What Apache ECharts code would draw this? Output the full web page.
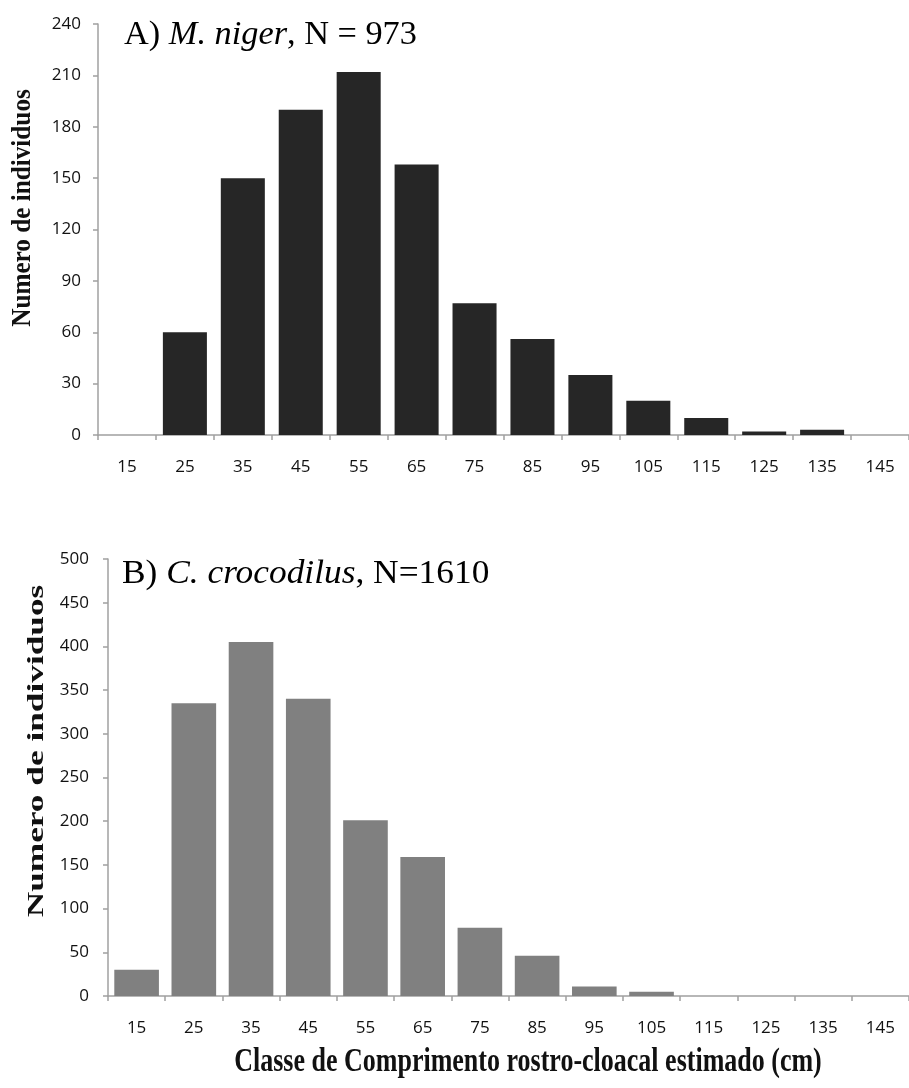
<!DOCTYPE html>
<html>
<head>
<meta charset="utf-8">
<script src="https://cdn.jsdelivr.net/npm/echarts@6/dist/echarts.min.js"></script>
<style>
html,body{margin:0;padding:0;background:#fff;}
#chart{width:909px;height:1088px;}
</style>
</head>
<body>
<div id="chart"></div>
<script>
// Size classes (cm)
const categories = ['15','25','35','45','55','65','75','85','95','105','115','125','135','145'];
// A) M. niger, N = 973
const nigerCounts = [0, 60, 150, 190, 212, 158, 77, 56, 35, 20, 10, 2, 3, 0];
// B) C. crocodilus, N = 1610
const crocodilusCounts = [30, 335, 405, 340, 201, 159, 78, 46, 11, 5, 0, 0, 0, 0];
const nigerTicks = {min: 0, max: 240, interval: 30};
const crocTicks = {min: 0, max: 500, interval: 50};

const yTitle = 'Numero de individuos';
const xTitle = 'Classe de Comprimento rostro-cloacal estimado (cm)';

const chart = echarts.init(document.getElementById('chart'), null, {renderer: 'canvas'});

const axisGray = '#a0a0a0';
const labelFont = {fontFamily: 'Open Sans', fontSize: 17, color: '#111'};

function xAxisCfg(gridIndex) {
  return {
    type: 'category', gridIndex, data: categories,
    axisLine: {lineStyle: {color: axisGray, width: 1.5}},
    axisTick: {show: true, length: 5, alignWithLabel: false, lineStyle: {color: axisGray, width: 1.5}},
    axisLabel: Object.assign({margin: 24, interval: 0}, labelFont),
    splitLine: {show: false}
  };
}
function yAxisCfg(gridIndex, t, margin) {
  return {
    type: 'value', gridIndex, min: t.min, max: t.max, interval: t.interval,
    axisLine: {show: true, lineStyle: {color: axisGray, width: 1.5}},
    axisTick: {show: true, length: 5, lineStyle: {color: axisGray, width: 1.5}},
    axisLabel: Object.assign({margin: margin}, labelFont),
    splitLine: {show: false}
  };
}

const option = {
  backgroundColor: '#fff',
  animation: false,
  grid: [
    {left: 98, top: 24, width: 816, height: 411, containLabel: false},
    {left: 108, top: 559, width: 811, height: 437, containLabel: false}
  ],
  xAxis: [xAxisCfg(0), xAxisCfg(1)],
  yAxis: [yAxisCfg(0, nigerTicks, 17), yAxisCfg(1, crocTicks, 19)],
  series: [
    {type: 'bar', xAxisIndex: 0, yAxisIndex: 0, data: nigerCounts,
     barCategoryGap: '24%', itemStyle: {color: '#262626'}},
    {type: 'bar', xAxisIndex: 1, yAxisIndex: 1, data: crocodilusCounts,
     barCategoryGap: '22%', itemStyle: {color: '#808080'}}
  ],
  graphic: [
    {type: 'text', x: 124, y: 35, scaleX: 1.04,
     style: {text: '{r|A) }{i|M. niger}{r|, N = 973}', textAlign: 'left', textVerticalAlign: 'middle',
       rich: {r: {fontFamily: 'Liberation Serif', fontSize: 33, color: '#111'},
              i: {fontFamily: 'Liberation Serif', fontStyle: 'italic', fontSize: 33, color: '#111'}}}},
    {type: 'text', x: 122, y: 574, scaleX: 1.04,
     style: {text: '{r|B) }{i|C. crocodilus}{r|, N=1610}', textAlign: 'left', textVerticalAlign: 'middle',
       rich: {r: {fontFamily: 'Liberation Serif', fontSize: 34, color: '#111'},
              i: {fontFamily: 'Liberation Serif', fontStyle: 'italic', fontSize: 34, color: '#111'}}}},
    {type: 'text', x: 23, y: 208, rotation: Math.PI / 2, scaleX: 0.9,
     style: {text: yTitle, font: 'bold 28px "Liberation Serif"', fill: '#111', textAlign: 'center', textVerticalAlign: 'middle'}},
    {type: 'text', x: 37, y: 751, rotation: Math.PI / 2, scaleX: 1.47,
     style: {text: yTitle, font: 'bold 24px "Liberation Serif"', fill: '#111', textAlign: 'center', textVerticalAlign: 'middle'}},
    {type: 'text', x: 528, y: 1062, scaleY: 1.3,
     style: {text: xTitle, font: 'bold 26px "Liberation Serif"', fill: '#111', textAlign: 'center', textVerticalAlign: 'middle'}}
  ]
};
chart.setOption(option);
</script>
</body>
</html>
